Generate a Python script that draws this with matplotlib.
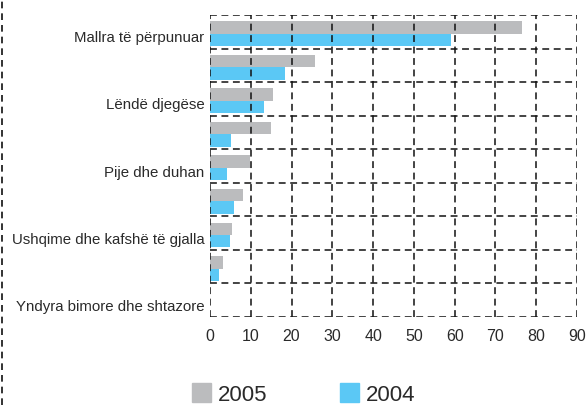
import matplotlib
matplotlib.use("Agg")
import matplotlib.pyplot as plt
import matplotlib.transforms as mtransforms
import numpy as np
from matplotlib.patches import Patch
from matplotlib.lines import Line2D

# categories, top to bottom (only every other one labelled in the original)
categories = ["Mallra të përpunuar", "", "Lëndë djegëse", "", "Pije dhe duhan",
              "", "Ushqime dhe kafshë të gjalla", "", "Yndyra bimore dhe shtazore"]
val_2005 = [76.5, 25.7, 15.4, 15.0, 9.8, 8.1, 5.4, 3.2, 0.0]
val_2004 = [59.0, 18.4, 13.2, 5.1, 4.1, 5.9, 4.9, 2.3, 0.0]
xticks = [0, 10, 20, 30, 40, 50, 60, 70, 80, 90]

gray = "#BBBCBE"
blue = "#5BC8F5"
txt = "#2a2a2a"

plt.rcParams["font.family"] = ["Liberation Sans", "DejaVu Sans"]

fig = plt.figure(figsize=(5.87, 4.06), dpi=100)
ax = fig.add_axes([210/587, 1 - 318/406, 367/587, 302/406])

y = np.arange(len(categories))
h = 0.37
ax.barh(y - 0.13, val_2005, height=h, color=gray, zorder=2)
ax.barh(y + 0.24, val_2004, height=h, color=blue, zorder=2)

ax.set_xlim(0, 90)
ax.set_ylim(len(categories) - 0.5, -0.5)

# dashed grid on category boundaries and every 10 units
dash = (0, (4.5, 3))
for b in np.arange(-0.5, len(categories), 1.0):
    ax.axhline(b, color="#111111", lw=1.1, ls=dash, zorder=3)
for xv in xticks:
    ax.axvline(xv, color="#111111", lw=1.1, ls=dash, zorder=3)

for s in ax.spines.values():
    s.set_visible(False)

ax.set_xticks(xticks)
ax.set_xticklabels([str(v) for v in xticks], fontsize=11.5, color=txt)
ax.set_yticks(y)
ax.set_yticklabels(categories, fontsize=10.8, color=txt)
ax.tick_params(length=0, pad=4)
ax.tick_params(axis="x", pad=8)

# category labels sit a few pixels below the row centre in the original
shift = mtransforms.ScaledTranslation(0, -4/100, fig.dpi_scale_trans)
for lab in ax.get_yticklabels():
    lab.set_transform(lab.get_transform() + shift)

handles = [Patch(color=gray, label="2005"), Patch(color=blue, label="2004")]
fig.legend(handles=handles, loc="center left", bbox_to_anchor=(192/587, 1 - 395/406),
           ncol=2, frameon=False, fontsize=16, handlelength=0.85, handleheight=0.9,
           handletextpad=0.3, columnspacing=3.3, borderpad=0, borderaxespad=0,
           labelcolor=txt)

# dashed frame edge on the left side of the picture
fig.add_artist(Line2D([1.5/587, 1.5/587], [0, 1], transform=fig.transFigure,
                      color="#111111", lw=1.2, ls=(0, (4, 3))))

fig.savefig("out.png", dpi=100)
